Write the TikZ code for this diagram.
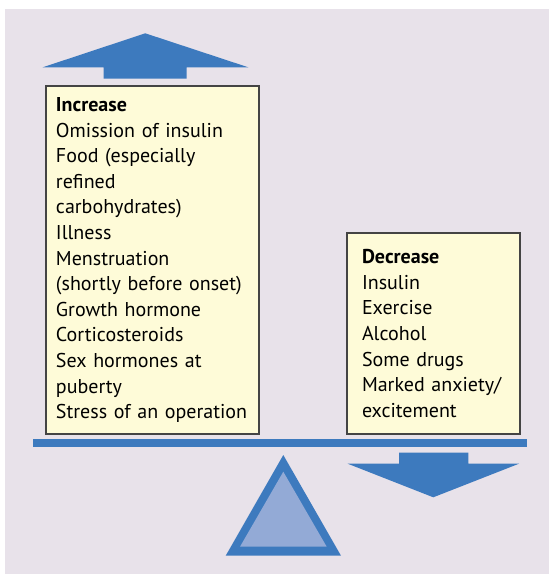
\documentclass[tikz,border=0pt]{standalone}
\usepackage{fontspec}
\setmainfont{PT Sans}
\usetikzlibrary{positioning}
\definecolor{scaleblue}{HTML}{3D7ABE}
\definecolor{pivotfill}{HTML}{93AAD6}
\definecolor{panelbg}{HTML}{E8E2EA}
\definecolor{boxfill}{HTML}{FEFBD8}
\definecolor{boxline}{HTML}{444444}

\begin{document}
\begin{tikzpicture}[
  x=1pt, y=-1pt,
  listbox/.style={rectangle, draw=boxline, fill=boxfill, line width=1.2pt,
                  inner xsep=0pt, inner ysep=0pt, align=left,
                  font=\fontsize{20}{25.6}\selectfont},
]
  \useasboundingbox (0,0) rectangle (549,574);
  % Background panel
  \fill[panelbg] (5,9) rectangle (549,574);

  % Up arrow (increase)
  \fill[scaleblue] (42.7,67.3) -- (145.3,33.3) -- (248.3,67.3) -- (186.7,67.3)
    -- (186.7,78.7) -- (103.7,78.7) -- (103.7,67.3) -- cycle;

  % Lists
  \node[listbox, minimum width=213pt, minimum height=348pt,
        text width=193pt] (inc) at (152.5,260)
    {\textbf{Increase}\\
     Omission of insulin\\
     Food (especially\\
     refined\\
     carbohydrates)\\
     Illness\\
     Menstruation\\
     (shortly before onset)\\
     Growth hormone\\
     Corticosteroids\\
     Sex hormones at\\
     puberty\\
     Stress of an operation};
  \node[listbox, minimum width=173pt, minimum height=201pt,
        text width=143pt] (dec) at (433.5,333.5)
    {\textbf{Decrease}\\
     Insulin\\
     Exercise\\
     Alcohol\\
     Some drugs\\
     Marked anxiety/\\
     excitement};

  % Beam and pivot
  \fill[scaleblue] (32.7,439.3) rectangle (526.7,447.3);
  \fill[scaleblue] (283.3,455) -- (341,555.7) -- (225.7,555.7) -- cycle;
  \fill[pivotfill] (283.3,471.7) -- (326.7,546.7) -- (240,546.7) -- cycle;

  % Down arrow (decrease)
  \fill[scaleblue] (399,452.7) -- (468.3,452.7) -- (468.3,463.7) -- (519,463.7)
    -- (433.3,497.3) -- (347.7,463.7) -- (399,463.7) -- cycle;
\end{tikzpicture}
\end{document}
